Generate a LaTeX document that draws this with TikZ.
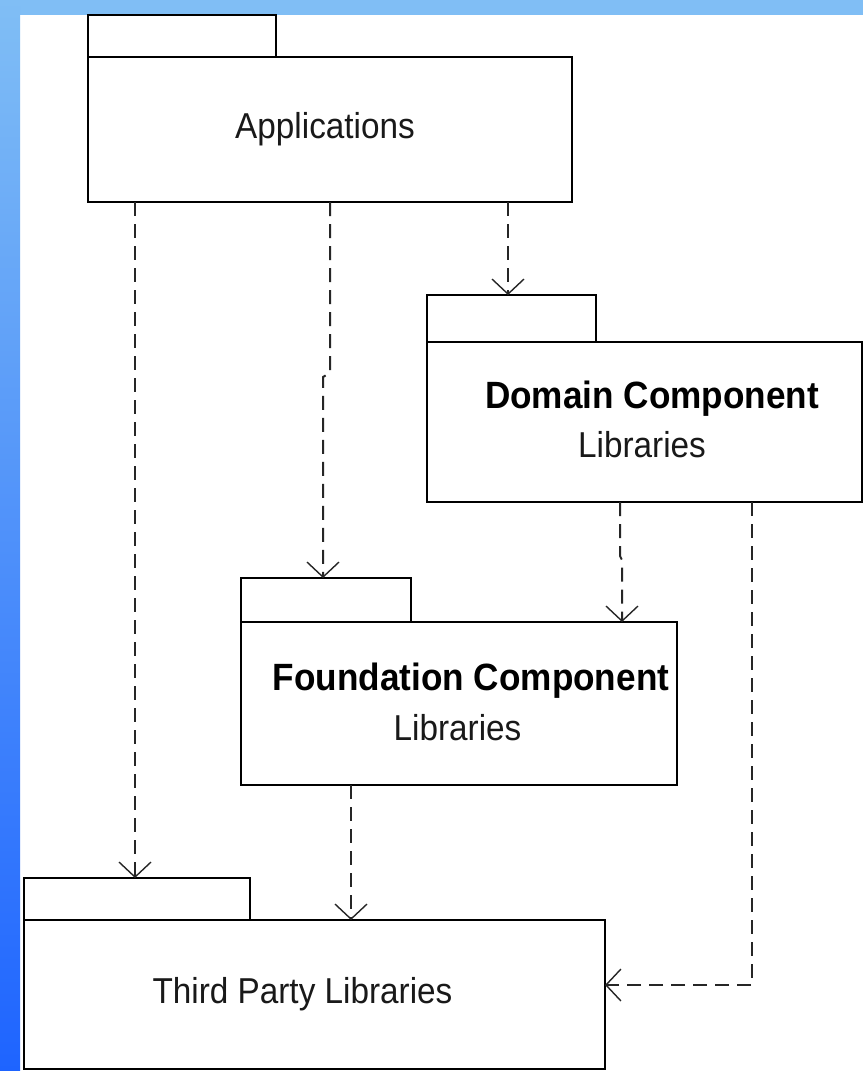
\documentclass[tikz,border=0pt]{standalone}
\usepackage{fontspec}
\newfontfamily\pkgfont[FakeStretch=0.925]{Liberation Sans}
\usetikzlibrary{arrows.meta}
\definecolor{skyband}{RGB}{128,190,245}
\definecolor{deepband}{RGB}{30,100,255}

\begin{document}
\begin{tikzpicture}[x=1pt,y=-1pt,
  pkg/.style={draw=black, line width=2pt, fill=white, rectangle,
    inner sep=0pt, outer sep=0pt, anchor=north west},
  dep/.style={draw=black!85, line width=2pt, dash pattern=on 14pt off 8pt,
    -{Straight Barb[length=15pt,width=32pt,line width=1.4pt]}},
  pkgtext/.style={font=\pkgfont\fontsize{36pt}{40pt}\selectfont,
    anchor=base, inner sep=0pt, text=black!90},
  pkgtitle/.style={font=\pkgfont\bfseries\fontsize{38pt}{42pt}\selectfont,
    anchor=base, inner sep=0pt, text=black}]

% page background with the blue frame bands
\useasboundingbox (0,0) rectangle (863,1071);
\fill[white] (0,0) rectangle (863,1071);
\fill[skyband] (0,0) rectangle (863,15);
\shade[top color=skyband, bottom color=deepband] (0,0) rectangle (20,1071);

% packages: tab + body
\node[pkg, minimum width=188pt, minimum height=42pt]  (apptab)   at (88,15)  {};
\node[pkg, minimum width=484pt, minimum height=145pt] (app)      at (88,57)  {};

\node[pkg, minimum width=169pt, minimum height=47pt]  (domtab)   at (427,295) {};
\node[pkg, minimum width=435pt, minimum height=160pt] (dom)      at (427,342) {};

\node[pkg, minimum width=170pt, minimum height=44pt]  (foundtab) at (241,578) {};
\node[pkg, minimum width=436pt, minimum height=163pt] (found)    at (241,622) {};

\node[pkg, minimum width=226pt, minimum height=42pt]  (thirdtab) at (24,878) {};
\node[pkg, minimum width=581pt, minimum height=149pt] (third)    at (24,920) {};

% package labels
\node[pkgtext]  (applbl)   at (325,138)   {Applications};
\node[pkgtitle] (domlbl)   at (652,408)   {Domain Component};
\node[pkgtext]  (domsub)   at (642,457)   {Libraries};
\node[pkgtitle] (foundlbl) at (471,690)   {Foundation Component};
\node[pkgtext]  (foundsub) at (457.5,740) {Libraries};
\node[pkgtext]  (thirdlbl) at (302.5,1003) {Third Party Libraries};

% dependency start points
\coordinate (a1) at ([xshift=47pt]app.south west);
\coordinate (a2) at ([xshift=242pt]app.south west);
\coordinate (a3) at ([xshift=420pt]app.south west);
\coordinate (d1) at ([xshift=193pt]dom.south west);
\coordinate (d2) at ([xshift=325pt]dom.south west);
\coordinate (f1) at ([xshift=110pt]found.south west);
\path (a2) ++(0,171) coordinate (a2b) ++(-7,4) coordinate (a2c);
\path (d1) ++(0,54) coordinate (d1b) ++(2,4) coordinate (d1c);

% dependencies
\draw[dep] (a1) -- (a1 |- thirdtab.north);
\draw[dep] (a2) -- (a2b) -- (a2c) -- (a2c |- foundtab.north);
\draw[dep] (a3) -- (a3 |- domtab.north);
\draw[dep] (d1) -- (d1b) -- (d1c) -- (d1c |- found.north);
\draw[dep] (d2) |- ([yshift=9.5pt]third.east);
\draw[dep] (f1) -- (f1 |- third.north);
\end{tikzpicture}
\end{document}
